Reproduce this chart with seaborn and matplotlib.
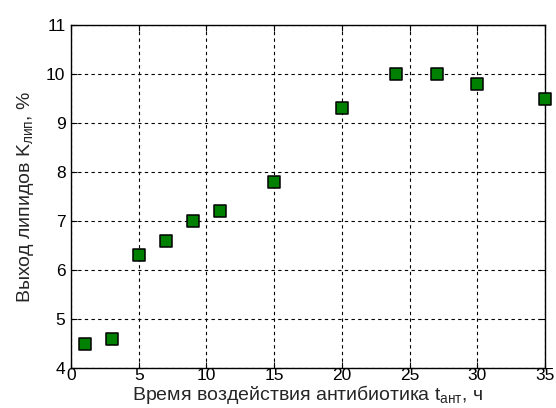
import matplotlib
matplotlib.use("Agg")
import matplotlib.pyplot as plt
import seaborn as sns
import pandas as pd

hours = [1, 3, 5, 7, 9, 11, 15, 20, 24, 27, 30, 35]
lipid_yield = [4.5, 4.6, 6.3, 6.6, 7.0, 7.2, 7.8, 9.3, 10.0, 10.0, 9.8, 9.5]
x_ticks = [0, 5, 10, 15, 20, 25, 30, 35]
y_ticks = [4, 5, 6, 7, 8, 9, 10, 11]

sns.set_style("white")
plt.rcParams["font.family"] = ["Liberation Sans", "DejaVu Sans"]
plt.rcParams["mathtext.fontset"] = "custom"
plt.rcParams["mathtext.rm"] = "Liberation Sans"
plt.rcParams["mathtext.it"] = "Liberation Sans"

df = pd.DataFrame({"t": hours, "k": lipid_yield})

fig = plt.figure(figsize=(5.56, 4.08), dpi=100)
ax = fig.add_axes([71 / 556, 40 / 408, 474 / 556, 343 / 408])

sns.scatterplot(data=df, x="t", y="k", marker="s", s=85, color="#008000",
                edgecolor="black", linewidth=1.1, ax=ax, zorder=3, clip_on=False)

ax.set_xlim(0, 35)
ax.set_ylim(4, 11)
ax.set_xticks(x_ticks)
ax.set_yticks(y_ticks)
ax.grid(True, color="black", linestyle=(0, (3, 3)), linewidth=0.8)
for s in ax.spines.values():
    s.set_color("black")
    s.set_linewidth(1.0)
ax.tick_params(direction="in", length=4, width=0.8, labelsize=12.5, pad=4,
               top=True, right=True, bottom=True, left=True, colors="black")
ax.tick_params(axis="x", pad=0)
ax.set_xlabel("Время воздействия антибиотика t$_{\\mathregular{ант}}$, ч",
              fontsize=14, labelpad=0)
ax.set_ylabel("Выход липидов K$_{\\mathregular{лип}}$, %", fontsize=14, labelpad=7)

fig.savefig("out.png", dpi=100)
